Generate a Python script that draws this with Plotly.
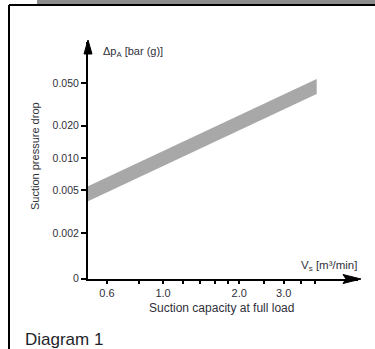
import plotly.graph_objects as go

# ---- data ----
capacity = [0.5, 4.05]            # suction capacity at full load [m3/min]
dp_upper = [0.0054, 0.0545]       # upper edge of pressure-drop band [bar (g)]
dp_lower = [0.0039, 0.0394]       # lower edge of pressure-drop band [bar (g)]

x_tickvals = [0.6, 1.0, 2.0, 3.0]
x_ticktext = ["0.6", "1.0", "2.0", "3.0"]
x_minorvals = [0.8, 1.2, 1.4, 1.6, 1.8, 2.5, 3.5, 4.0]
y_tickvals = [0.00075, 0.002, 0.005, 0.01, 0.02, 0.05]
y_ticktext = ["0", "0.002", "0.005", "0.010", "0.020", "0.050"]

W, H = 375, 349
L, R, T, B = 88, 17, 42, 70
PW, PH = W - L - R, H - T - B


def px(x):
    return (x - L) / PW


def py(y):
    return (H - B - y) / PH


FONT = "Liberation Sans, Arial, sans-serif"
TXT = "#30303a"

fig = go.Figure()
fig.add_trace(go.Scatter(
    x=capacity + capacity[::-1],
    y=dp_upper + dp_lower[::-1],
    fill="toself", fillcolor="#a8a8a8",
    line=dict(width=0), mode="lines", hoverinfo="skip", showlegend=False,
))

fig.update_layout(
    width=W, height=H,
    margin=dict(l=L, r=R, t=T, b=B, pad=0),
    paper_bgcolor="white", plot_bgcolor="white",
    showlegend=False,
    font=dict(family=FONT, size=11, color=TXT),
    xaxis=dict(
        type="log", range=[-0.2967, 0.7709],
        tickmode="array", tickvals=x_tickvals, ticktext=x_ticktext,
        ticks="outside", ticklen=3, tickwidth=1.5, tickcolor="black",
        minor=dict(tickmode="array", tickvals=x_minorvals, ticks="outside",
                   ticklen=3, tickwidth=1.5, tickcolor="black", showgrid=False),
        showline=True, linecolor="black", linewidth=2,
        showgrid=False, zeroline=False, tickfont=dict(size=11, color=TXT),
    ),
    yaxis=dict(
        type="log", range=[-3.128, -0.919],
        tickmode="array", tickvals=y_tickvals, ticktext=y_ticktext,
        ticks="outside", ticklen=5, tickwidth=1.5, tickcolor="black",
        showline=True, linecolor="black", linewidth=2,
        showgrid=False, zeroline=False, tickfont=dict(size=10.5, color=TXT),
    ),
)

shapes = [
    # grey strip at top
    dict(type="rect", xref="paper", yref="paper",
         x0=px(37), x1=px(376), y0=py(-1), y1=py(4),
         fillcolor="#8c8c8c", line=dict(width=0), layer="above"),
    # frame lines
    dict(type="line", xref="paper", yref="paper",
         x0=px(9), x1=px(376), y0=py(5), y1=py(5),
         line=dict(color="black", width=2)),
    dict(type="line", xref="paper", yref="paper",
         x0=px(9), x1=px(9), y0=py(5), y1=py(350),
         line=dict(color="black", width=2)),
    # y-axis arrowhead
    dict(type="path", xref="paper", yref="paper",
         path=f"M {px(88)},{py(40)} L {px(84)},{py(54)} L {px(92)},{py(54)} Z",
         fillcolor="black", line=dict(color="black", width=1)),
    # x-axis arrowhead
    dict(type="path", xref="paper", yref="paper",
         path=f"M {px(361)},{py(279)} L {px(343)},{py(274.5)} L {px(346)},{py(279)} L {px(343)},{py(283.5)} Z",
         fillcolor="black", line=dict(color="black", width=1)),
]
fig.update_layout(shapes=shapes)

ann = [
    dict(text="Δp<sub>A</sub> [bar (g)]", x=px(101), y=py(52),
         xanchor="left", yanchor="middle", font=dict(size=11, color=TXT)),
    dict(text="V<sub>s</sub> [m³/min]", x=px(359), y=py(266),
         xanchor="right", yanchor="middle", font=dict(size=11.5, color=TXT)),
    dict(text="Suction capacity at full load", x=px(221), y=py(308),
         xanchor="center", yanchor="middle", font=dict(size=12, color=TXT)),
    dict(text="Suction pressure drop", x=px(35), y=py(156), textangle=-90,
         xanchor="center", yanchor="middle", font=dict(size=11, color=TXT)),
    dict(text="Diagram 1", x=px(23), y=py(339),
         xanchor="left", yanchor="middle", font=dict(size=17, color="#1f1f2a")),
]
for a in ann:
    a.update(xref="paper", yref="paper", showarrow=False)
fig.update_layout(annotations=ann)

fig.write_html(
    "out.html",
    config={"displayModeBar": False},
    post_script="document.body.style.margin='0';document.body.style.overflow='hidden';",
)
